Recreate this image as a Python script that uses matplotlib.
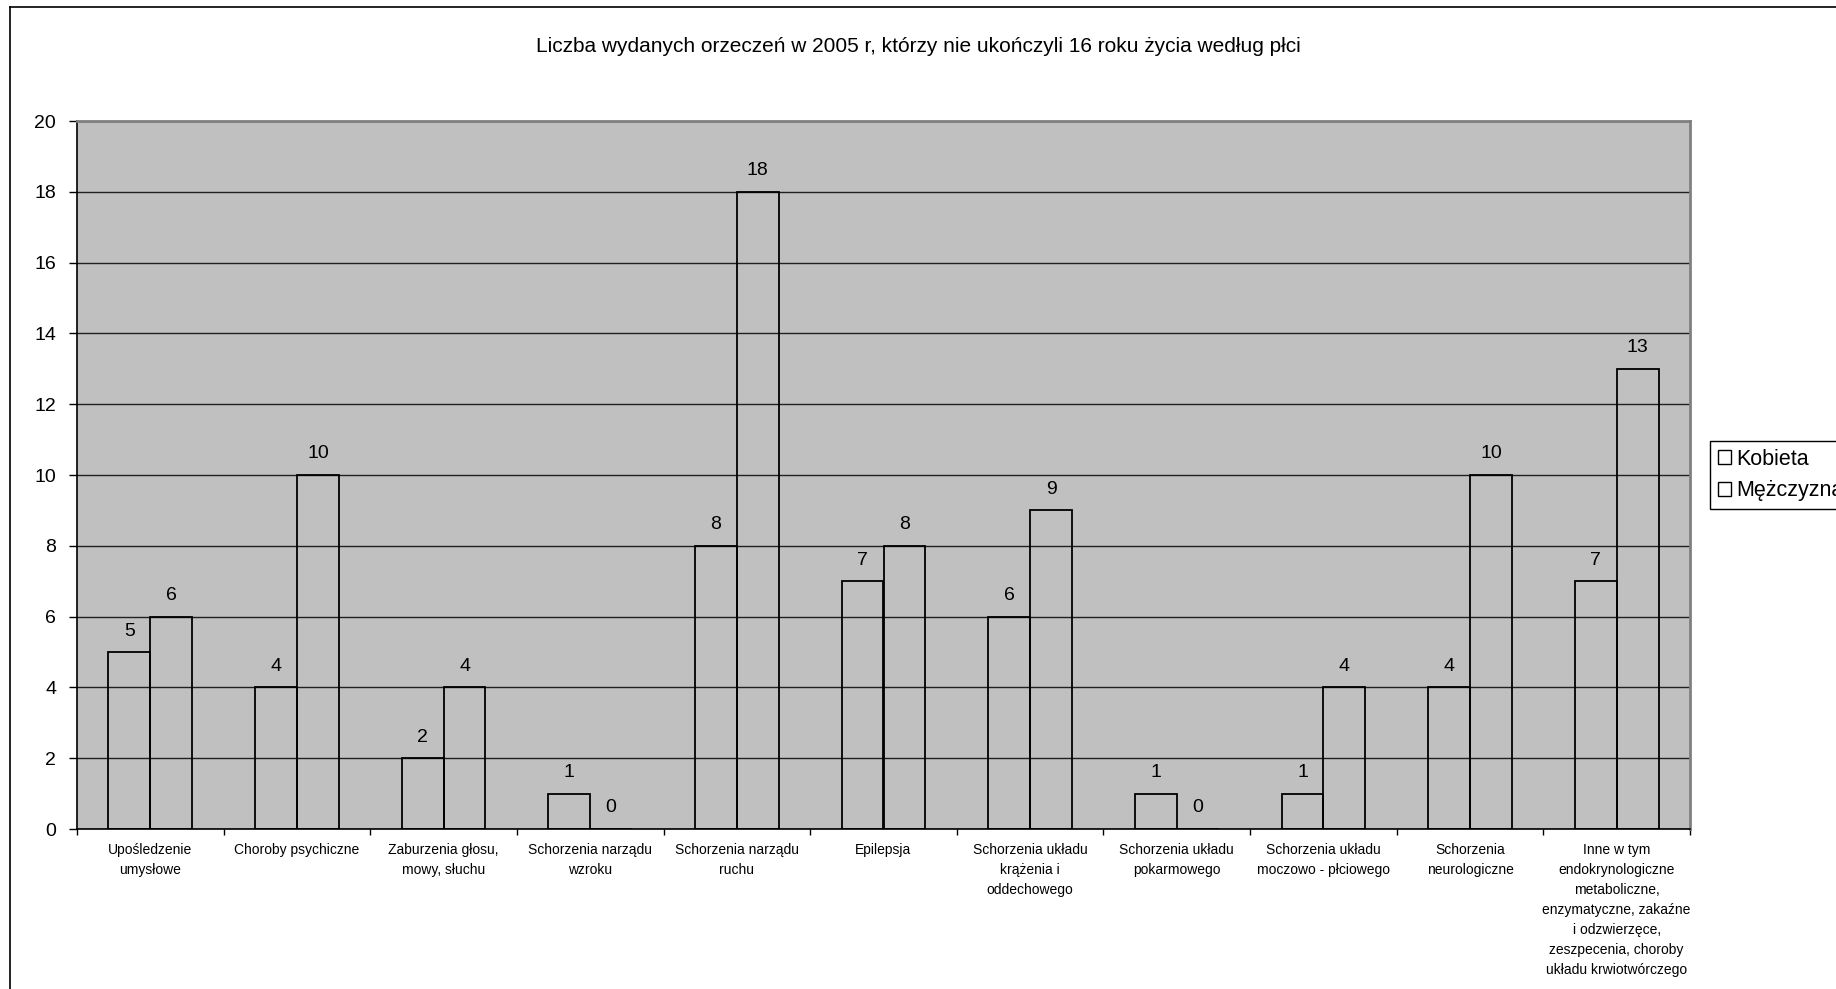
import numpy as np
import matplotlib
matplotlib.use('Agg')
import matplotlib.pyplot as plt
from matplotlib.patches import Patch
from matplotlib.lines import Line2D

plt.rcParams['font.family'] = ['Liberation Sans', 'DejaVu Sans']

# Data: number of decisions issued in 2005 by category and sex
categories = [
    'Upośledzenie\numysłowe',
    'Choroby psychiczne',
    'Zaburzenia głosu,\nmowy, słuchu',
    'Schorzenia narządu\nwzroku',
    'Schorzenia narządu\nruchu',
    'Epilepsja',
    'Schorzenia układu\nkrążenia i\noddechowego',
    'Schorzenia układu\npokarmowego',
    'Schorzenia układu\nmoczowo - płciowego',
    'Schorzenia\nneurologiczne',
    'Inne w tym\nendokrynologiczne\nmetaboliczne,\nenzymatyczne, zakaźne\ni odzwierzęce,\nzeszpecenia, choroby\nukładu krwiotwórczego',
]
kobieta = [5, 4, 2, 1, 8, 7, 6, 1, 1, 4, 7]
mezczyzna = [6, 10, 4, 0, 18, 8, 9, 0, 4, 10, 13]
series_names = ['Kobieta', 'Mężczyzna']
y_ticks = list(range(0, 21, 2))

W, H = 1836, 989
fig = plt.figure(figsize=(W / 100, H / 100), dpi=100)

# outer chart frame (runs off the right and bottom edges)
fig.add_artist(Line2D([10 / W, 1.0], [1 - 7 / H, 1 - 7 / H], color='black', lw=1.2))
fig.add_artist(Line2D([10 / W, 10 / W], [0.0, 1 - 7 / H], color='black', lw=1.2))

ax = fig.add_axes([77 / W, 1 - 829 / H, (1690 - 77) / W, (829 - 121) / H])
ax.set_facecolor('#C0C0C0')

x = np.arange(len(categories))
bw = 1 / 3.5
for offs, vals in [(-bw / 2, kobieta), (bw / 2, mezczyzna)]:
    ax.bar(x + offs, vals, bw, facecolor='none', edgecolor='black', linewidth=1.3, zorder=3)
    for xi, v in zip(x + offs, vals):
        ax.annotate(str(v), (xi, v), xytext=(0, 9), textcoords='offset points',
                    ha='center', va='bottom', fontsize=14)

ax.set_xlim(-0.5, len(categories) - 0.5)
ax.set_ylim(0, 20)
ax.set_yticks(y_ticks)
ax.tick_params(axis='y', labelsize=14, length=6, width=1, direction='out', pad=9)
ax.grid(axis='y', color='#202020', linewidth=1, zorder=1)
ax.set_axisbelow(True)

ax.set_xticks(x)
ax.set_xticklabels(categories, fontsize=10, linespacing=1.55, va='top')
ax.tick_params(axis='x', length=0, pad=10)
ax.set_xticks(np.arange(len(categories) + 1) - 0.5, minor=True)
ax.tick_params(axis='x', which='minor', length=4, width=1, direction='out')

for side in ['left', 'bottom']:
    ax.spines[side].set_color('black')
    ax.spines[side].set_linewidth(1.2)
for side in ['top', 'right']:
    ax.spines[side].set_color('#808080')
    ax.spines[side].set_linewidth(2)

fig.text(0.5, 1 - 46 / H,
         'Liczba wydanych orzeczeń w 2005 r, którzy nie ukończyli 16 roku życia według płci',
         ha='center', va='center', fontsize=15)

handles = [Patch(facecolor='white', edgecolor='black', linewidth=1) for _ in series_names]
leg = fig.legend(handles, series_names, loc='upper left',
                 bbox_to_anchor=(1710 / W, 1 - 441 / H), fontsize=15.5,
                 frameon=True, fancybox=False, edgecolor='black', framealpha=1,
                 handlelength=0.64, handleheight=0.64, handletextpad=0.22,
                 borderpad=0.35, labelspacing=0.5, borderaxespad=0)
leg.get_frame().set_linewidth(1)

fig.savefig('out.png', dpi=100)
